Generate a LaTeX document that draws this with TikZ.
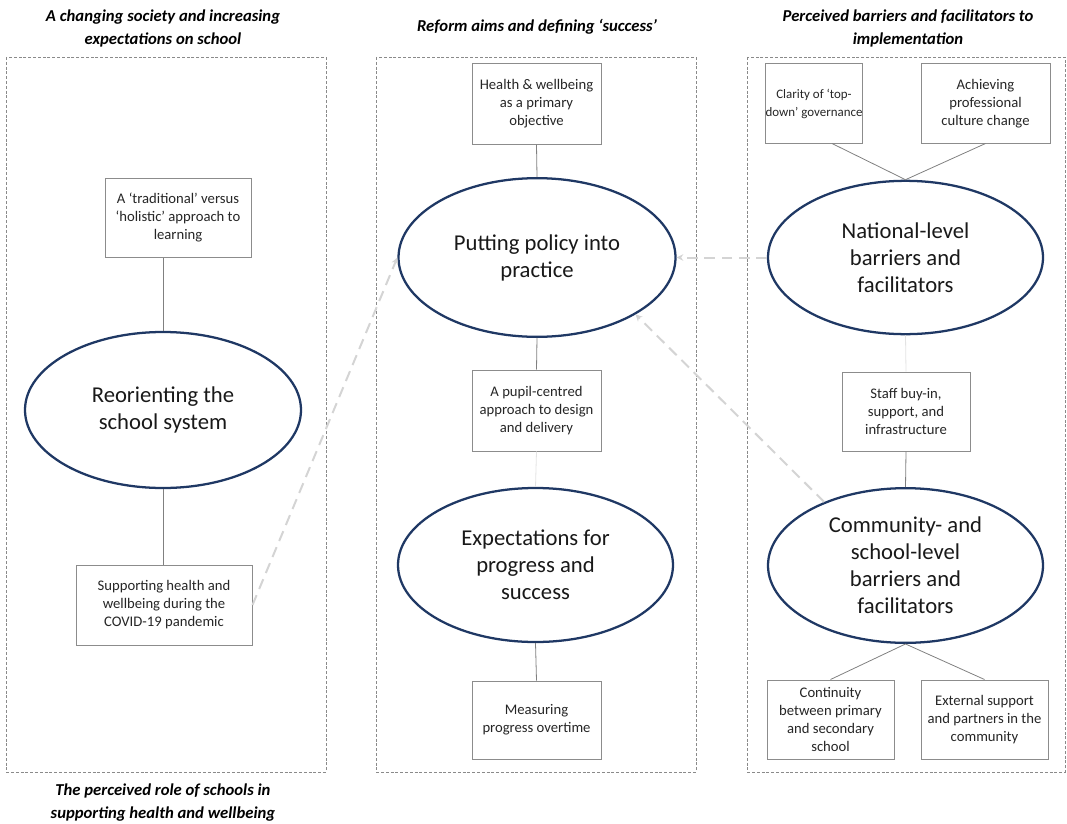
\documentclass[tikz,border=0pt]{standalone}
\usepackage{fontspec}
\setmainfont{Carlito}
\usetikzlibrary{shapes.geometric,arrows.meta}
\definecolor{navy}{HTML}{1F3864}
\definecolor{lightline}{HTML}{D4D4D4}
\definecolor{boxline}{HTML}{8C8C8C}
\definecolor{panelline}{HTML}{8A8A8A}
\begin{document}
\begin{tikzpicture}[x=0.75pt,y=-0.75pt,
 panel/.style={draw=panelline, dash pattern=on 2.2pt off 1.4pt, line width=0.6pt},
 title/.style={font=\fontsize{12.5}{17.25}\selectfont\bfseries\itshape, align=center, text=black, inner sep=0pt},
 box/.style={rectangle, draw=boxline, line width=0.75pt, fill=white, align=center, font=\fontsize{11}{13.5}\selectfont, text=black!85, inner sep=0pt},
 oval/.style={ellipse, draw=navy, line width=1.7pt, fill=white, align=center, font=\fontsize{17}{20.25}\selectfont, text=black!90, inner sep=0pt},
 link/.style={draw=gray, line width=0.6pt},
 faint/.style={draw=gray!22, line width=0.6pt},
 dlink/.style={draw=lightline, line width=1.5pt, dash pattern=on 8pt off 5pt, -{Stealth[length=5pt,width=5pt]}},
]
\useasboundingbox (0,0) rectangle (1067,824);

% panels
\draw[panel] (6,57) rectangle (326,772);
\draw[panel] (376,57) rectangle (696,772);
\draw[panel] (747,57) rectangle (1065,772);

% titles
\node[title] (t1) at (163,28.5) {A changing society and increasing\\expectations on school};
\node[title] (t2) at (537,27) {Reform aims and defining ‘success’};
\node[title] (t3) at (908,28.5) {Perceived barriers and facilitators to\\implementation};
\node[title] (t4) at (163,803) {The perceived role of schools in\\supporting health and wellbeing};

% left panel
\node[box, minimum width=109.5pt, minimum height=59.25pt] (trad) at (178,217.5) {A ‘traditional’ versus\\‘holistic’ approach to\\learning};
\node[oval, minimum width=207pt, minimum height=117pt] (reo) at (163,410) {Reorienting the\\school system};
\node[box, minimum width=132pt, minimum height=60pt] (covid) at (164,605) {Supporting health and\\wellbeing during the\\COVID-19 pandemic};

% middle panel
\node[box, minimum width=96.75pt, minimum height=60pt] (health) at (536.5,104) {Health \& wellbeing\\as a primary\\objective};
\node[oval, minimum width=207.75pt, minimum height=119pt] (put) at (537,257.5) {Putting policy into\\practice};
\node[box, minimum width=96.75pt, minimum height=60.75pt] (pupil) at (536.5,410.5) {A pupil-centred\\approach to design\\and delivery};
\node[oval, minimum width=206.25pt, minimum height=115.5pt] (expect) at (535.5,565) {Expectations for\\progress and\\success};
\node[box, minimum width=96.75pt, minimum height=58.5pt] (measure) at (536.5,720) {Measuring\\progress overtime};

% right panel
\node[box, minimum width=72pt, minimum height=59.25pt, font=\fontsize{9.7}{13.5}\selectfont] (clarity) at (814,103.5) {Clarity of ‘top-\\down’ governance};
\node[box, minimum width=96.75pt, minimum height=59.25pt] (achieve) at (985.5,103.5) {Achieving\\professional\\culture change};
\node[oval, minimum width=206.25pt, minimum height=115pt] (nat) at (905.5,257.5) {National-level\\barriers and\\facilitators};
\node[box, minimum width=96pt, minimum height=59.25pt] (staff) at (906,411.5) {Staff buy-in,\\support, and\\infrastructure};
\node[oval, minimum width=206.25pt, minimum height=116pt] (comm) at (905.5,565.5) {Community- and\\school-level\\barriers and\\facilitators};
\node[box, minimum width=95.25pt, minimum height=59.25pt] (cont) at (830.5,719.5) {Continuity\\between primary\\and secondary\\school};
\node[box, minimum width=95.25pt, minimum height=59.25pt] (ext) at (984.5,719.5) {External support\\and partners in the\\community};

% connectors
\draw[link] (reo.north) -- (reo.north |- trad.south);
\draw[link] (reo.south) -- (reo.south |- covid.north);
\draw[link] (health.south) -- (put.north);
\draw[link] (put.south) -- (pupil.north);
\draw[faint] (pupil.south) -- (expect.north);
\draw[link] (expect.south) -- (measure.north);
\draw[link] ([xshift=13.5pt]clarity.south) -- (nat.north);
\draw[link] (achieve.south) -- (nat.north);
\draw[faint] (nat.south) -- (staff.north);
\draw[link] (staff.south) -- (comm.north);
\draw[link] (comm.south) -- (cont.north);
\draw[link] (comm.south) -- (ext.north);

\draw[dlink] (covid.east) -- (put.west);
\draw[dlink] (nat.west) -- (put.east);
\draw[dlink] (comm.142) -- (put.-30);
\end{tikzpicture}
\end{document}
